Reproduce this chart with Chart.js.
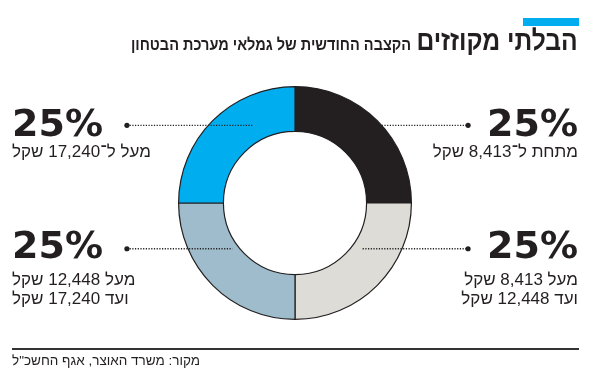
<!DOCTYPE html>
<html lang="he">
<head>
<meta charset="utf-8">
<script src="https://cdn.jsdelivr.net/npm/chart.js@4.4.1/dist/chart.umd.min.js"></script>
<style>
body{margin:0;background:#fff;width:590px;height:372px;overflow:hidden;position:relative;font-family:"Liberation Sans","DejaVu Sans",sans-serif;color:#231f20}
#c{position:absolute;left:0;top:0}
.bar{position:absolute;left:523px;top:18px;width:56px;height:8px;background:#00aeef}
.title{position:absolute;right:12px;top:27px;direction:rtl;white-space:nowrap;font-weight:bold;line-height:28px;transform:scaleX(0.88);transform-origin:right center}
.title .big{font-size:28px}
.title .sub{font-size:16.5px;margin-right:6px}
.lbl{position:absolute;direction:rtl;white-space:nowrap}
.lbl .pct{font-family:"DejaVu Sans",sans-serif;font-weight:bold;font-size:38px;line-height:38px;direction:ltr}
.lbl .txt{font-size:17px;line-height:19px}
.l{left:12px;text-align:left}
.l .pct{text-align:left}
.r{right:12px;text-align:right}
.r .pct{text-align:right}
.t{top:104px}
.b{top:226px}
.b .pct{margin-bottom:6px}
.rule{position:absolute;left:12px;top:348px;width:567px;height:2px;background:#333}
.src{position:absolute;left:12px;top:353px;font-size:13.5px;direction:rtl}
</style>
</head>
<body>
<canvas id="c" width="590" height="372"></canvas>
<div class="bar"></div>
<div class="title"><span class="big">הבלתי מקוזזים</span><span class="sub">הקצבה החודשית של גמלאי מערכת הבטחון</span></div>
<div id="labels"></div>
<div class="rule"></div>
<div class="src">מקור: משרד האוצר, אגף החשכ"ל</div>
<script>
// פלחי הקצבה, עם כיוון השעון מלמעלה
var categories = ['מתחת ל־8,413 שקל', 'מעל 8,413 שקל ועד 12,448 שקל', 'מעל 12,448 שקל ועד 17,240 שקל', 'מעל ל־17,240 שקל'];
var labelLines = [['מתחת ל־8,413 שקל'], ['מעל 8,413 שקל', 'ועד 12,448 שקל'], ['מעל 12,448 שקל', 'ועד 17,240 שקל'], ['מעל ל־17,240 שקל']];
var shares = [25, 25, 25, 25];
var colors = ['#231f20', '#dddcd7', '#9ebccb', '#00aeef'];

// מיקום התוויות לפי הפלח
var spots = ['r t', 'r b', 'l b', 'l t'];
var box = document.getElementById('labels');
for (var i = 0; i < categories.length; i++) {
    var d = document.createElement('div');
    d.className = 'lbl ' + spots[i];
    var html = '<div class="pct">' + shares[i] + '%</div>';
    for (var j = 0; j < labelLines[i].length; j++) {
        html += '<div class="txt">' + labelLines[i][j] + '</div>';
    }
    d.innerHTML = html;
    box.appendChild(d);
}

var leaders = {
    id: 'leaders',
    afterDatasetsDraw: function(chart) {
        var arc = chart.getDatasetMeta(0).data[0];
        var cx = arc.x, cy = arc.y, R = arc.outerRadius;
        var ctx = chart.ctx;
        var yTop = cy - R * 0.667, yBot = cy + R * 0.393;
        // [from, to, y, dot x]
        var lines = [
            [cx + R * 0.745, cx + R * 1.487, yTop, cx + R * 1.487],
            [cx + R * 0.581, cx + R * 1.487, yBot, cx + R * 1.487],
            [cx - R * 1.444, cx - R * 0.538, yBot, cx - R * 1.444],
            [cx - R * 1.444, cx - R * 0.359, yTop, cx - R * 1.444]
        ];
        ctx.save();
        ctx.strokeStyle = '#231f20';
        ctx.fillStyle = '#231f20';
        ctx.lineWidth = 1.3;
        ctx.setLineDash([1.2, 1.5]);
        lines.forEach(function(l) {
            ctx.beginPath();
            ctx.moveTo(l[0], l[2]);
            ctx.lineTo(l[1], l[2]);
            ctx.stroke();
        });
        ctx.setLineDash([]);
        lines.forEach(function(l) {
            ctx.beginPath();
            ctx.arc(l[3], l[2], 2.6, 0, Math.PI * 2);
            ctx.fill();
        });
        ctx.restore();
    }
};

new Chart(document.getElementById('c'), {
    type: 'doughnut',
    data: {
        labels: categories,
        datasets: [{
            data: shares,
            backgroundColor: colors,
            borderColor: '#231f20',
            borderWidth: 1.2
        }]
    },
    options: {
        responsive: false,
        animation: false,
        cutout: '61.5%',
        layout: { padding: { top: 86, bottom: 52, left: 178, right: 178 } },
        plugins: { legend: { display: false }, tooltip: { enabled: false } }
    },
    plugins: [leaders]
});
</script>
</body>
</html>
